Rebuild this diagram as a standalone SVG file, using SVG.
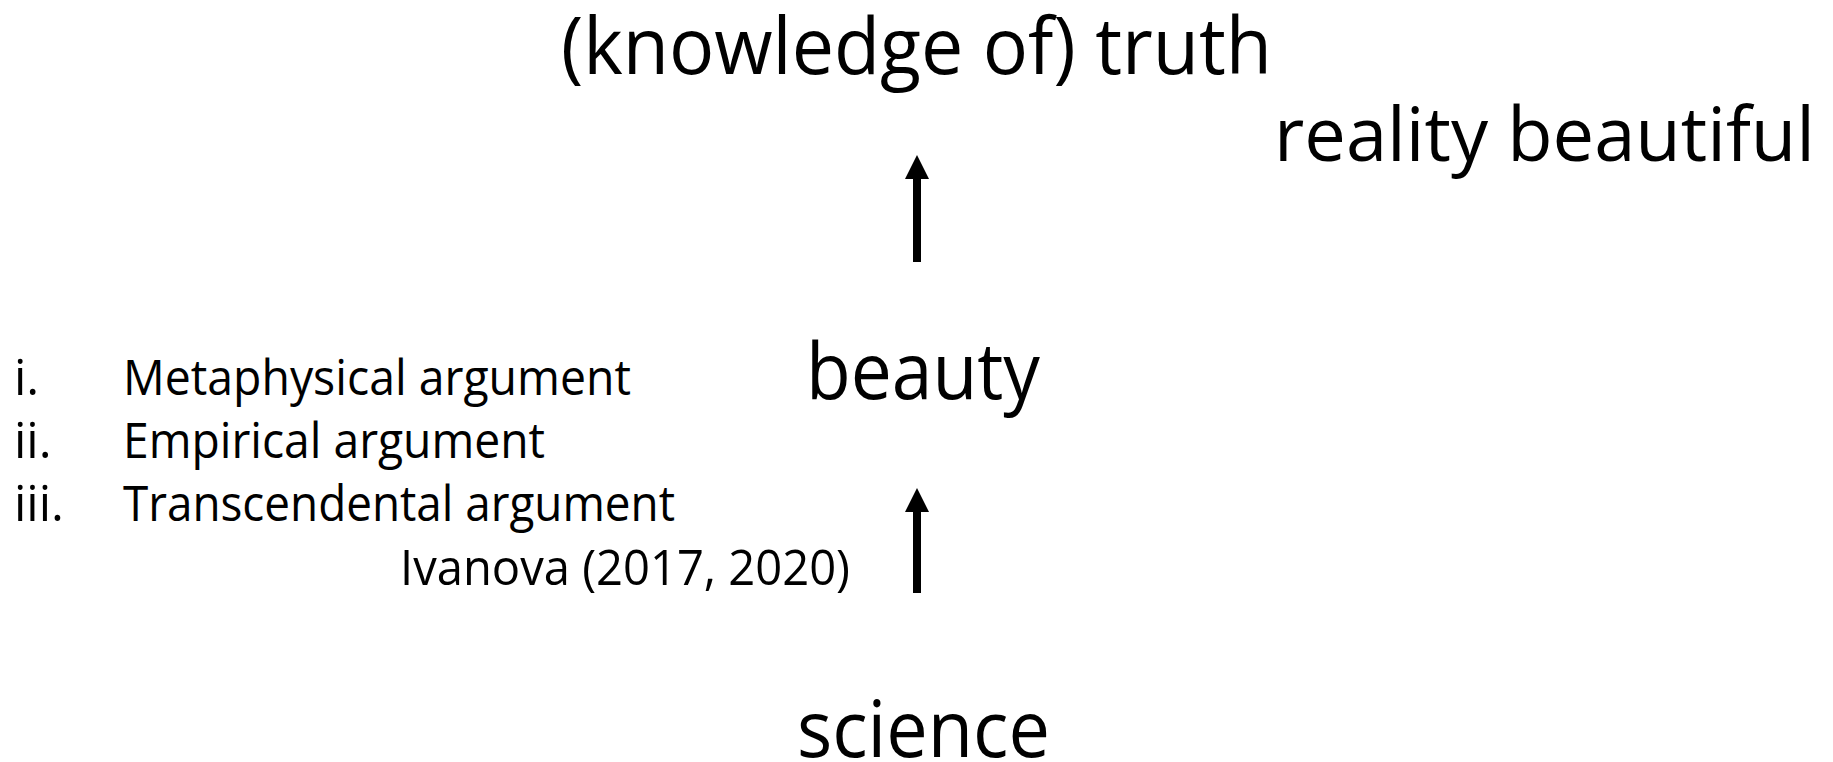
<svg xmlns="http://www.w3.org/2000/svg" width="1833" height="762" viewBox="0 0 1833 762">
<style>
text{font-family:"Open Sans","Liberation Sans",sans-serif;fill:#000}
.big{font-size:78px}
.small{font-size:49px}
.conn{stroke:#000;stroke-width:8;fill:none}
</style>
<defs>
<marker id="arrow" viewBox="0 0 24 24" markerWidth="24" markerHeight="24" markerUnits="userSpaceOnUse" refX="0" refY="12" orient="auto">
<path d="M0,0 L24,12 L0,24 z" fill="#000"/>
</marker>
</defs>
<rect width="1833" height="762" fill="#fff"/>
<g id="truth"><text class="big" x="561" y="74" textLength="711" lengthAdjust="spacingAndGlyphs">(knowledge of) truth</text></g>
<g id="reality"><text class="big" x="1274" y="161" style="font-size:75px" textLength="541" lengthAdjust="spacingAndGlyphs">reality beautiful</text></g>
<g id="beauty"><text class="big" x="806" y="399" textLength="234" lengthAdjust="spacingAndGlyphs">beauty</text></g>
<g id="science"><text class="big" x="797" y="757" textLength="253" lengthAdjust="spacingAndGlyphs">science</text></g>
<g id="arguments">
<text class="small" x="14" y="395">i.</text>
<text class="small" x="123" y="395" textLength="508" lengthAdjust="spacingAndGlyphs">Metaphysical argument</text>
<text class="small" x="14" y="458">ii.</text>
<text class="small" x="123" y="458" textLength="422" lengthAdjust="spacingAndGlyphs">Empirical argument</text>
<text class="small" x="14" y="521">iii.</text>
<text class="small" x="123" y="521" textLength="552" lengthAdjust="spacingAndGlyphs">Transcendental argument</text>
</g>
<g id="citation"><text class="small" x="400" y="585" textLength="450" lengthAdjust="spacingAndGlyphs">Ivanova (2017, 2020)</text></g>
<g id="connectors">
<line class="conn" x1="917" y1="262" x2="917" y2="179" marker-end="url(#arrow)"/>
<line class="conn" x1="917" y1="593" x2="917" y2="512" marker-end="url(#arrow)"/>
</g>
</svg>
